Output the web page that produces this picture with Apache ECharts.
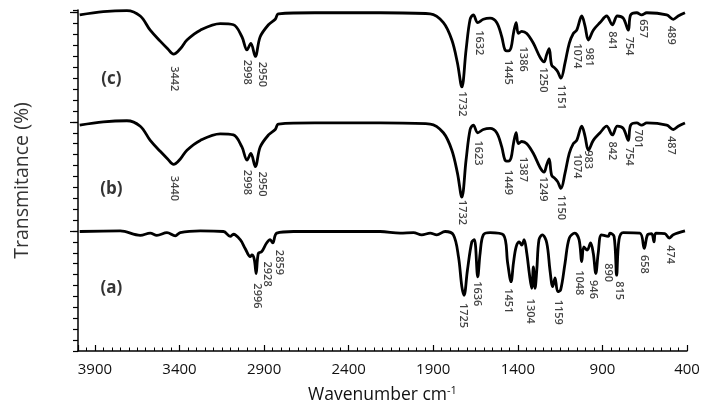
<!DOCTYPE html>
<html>
<head>
<meta charset="utf-8">
<script src="https://cdn.jsdelivr.net/npm/echarts@6/dist/echarts.min.js"></script>
<style>
  html, body { margin: 0; padding: 0; background: #fff; }
  #chart { width: 706px; height: 411px; }
</style>
</head>
<body>
<div id="chart"></div>
<script>
// spectra: [wavenumber, transmittance (offset units)]
const traceC = [
  [3990, 30.8], [3850, 31.1], [3711, 31.2], [3632, 30.7], [3573, 29.4], [3514, 28.4],
  [3470, 27.7], [3435, 27.2], [3395, 27.7], [3356, 28.5], [3277, 29.4], [3159, 30.0],
  [3081, 29.9], [3031, 28.8], [3001, 27.6], [2978, 28.2], [2952, 27.0], [2923, 28.8],
  [2874, 29.9], [2834, 30.4], [2815, 30.9], [2600, 31.0], [2214, 31.0], [1918, 30.9],
  [1840, 30.1], [1790, 28.5], [1757, 26.4], [1731, 24.2], [1706, 27.6], [1682, 30.4],
  [1663, 30.8], [1637, 30.1], [1604, 30.4], [1564, 30.5], [1525, 30.1], [1495, 28.8],
  [1476, 27.6], [1456, 27.5], [1440, 27.8], [1426, 29.1], [1410, 30.1], [1397, 29.1],
  [1377, 29.3], [1347, 29.1], [1308, 28.2], [1268, 26.9], [1245, 26.5], [1229, 27.2],
  [1215, 27.7], [1200, 26.2], [1180, 25.9], [1164, 25.6], [1145, 25.0], [1121, 26.4],
  [1096, 28.2], [1072, 29.1], [1052, 29.4], [1022, 30.7], [1003, 29.8], [983, 28.5],
  [954, 29.4], [914, 30.1], [875, 30.7], [841, 29.9], [812, 30.7], [777, 30.5],
  [747, 29.4], [733, 30.8], [697, 31.0], [668, 30.8], [638, 31.0], [520, 30.8],
  [481, 30.4], [452, 30.7], [412, 31.0]
];
const traceB = [
  [3990, 20.7], [3850, 21.0], [3711, 21.1], [3632, 20.6], [3573, 19.3], [3514, 18.3],
  [3470, 17.6], [3435, 17.1], [3395, 17.6], [3356, 18.4], [3277, 19.3], [3159, 19.9],
  [3081, 19.8], [3031, 18.7], [3001, 17.5], [2978, 18.1], [2952, 16.9], [2923, 18.7],
  [2874, 19.8], [2834, 20.3], [2815, 20.8], [2600, 20.9], [2214, 20.9], [1918, 20.8],
  [1840, 20.0], [1790, 18.4], [1757, 16.3], [1731, 14.1], [1706, 17.5], [1682, 20.3],
  [1663, 20.7], [1637, 20.0], [1604, 20.3], [1564, 20.4], [1525, 20.0], [1495, 18.7],
  [1476, 17.5], [1456, 17.4], [1440, 17.7], [1426, 19.0], [1410, 20.0], [1397, 19.0],
  [1377, 19.2], [1347, 19.0], [1308, 18.1], [1268, 16.8], [1245, 16.4], [1229, 17.1],
  [1215, 17.6], [1200, 16.1], [1180, 15.8], [1164, 15.5], [1145, 14.9], [1121, 16.3],
  [1096, 18.1], [1072, 19.0], [1052, 19.3], [1022, 20.6], [1003, 19.7], [983, 18.4],
  [954, 19.3], [914, 20.0], [875, 20.6], [841, 19.8], [812, 20.6], [777, 20.4],
  [747, 19.3], [733, 20.7], [697, 20.9], [668, 20.7], [638, 20.9], [520, 20.7],
  [481, 20.3], [452, 20.6], [412, 20.9]
];
const traceA = [
  [3990, 10.95], [3750, 11.0], [3632, 10.6], [3573, 10.8], [3534, 10.6], [3474, 10.85],
  [3425, 10.55], [3396, 10.85], [3277, 11.0], [3140, 10.95], [3100, 10.5], [3081, 10.7],
  [3041, 10.2], [3012, 9.4], [2982, 8.65], [2972, 8.8], [2958, 8.4], [2947, 7.1],
  [2934, 8.95], [2914, 9.1], [2885, 9.9], [2864, 10.2], [2849, 9.9], [2825, 10.8],
  [2726, 10.95], [2214, 10.95], [2096, 10.8], [2017, 10.85], [1968, 10.65], [1918, 10.8],
  [1879, 10.65], [1830, 10.95], [1781, 10.65], [1751, 8.65], [1731, 5.9], [1718, 5.1],
  [1698, 7.4], [1672, 10.0], [1657, 10.2], [1637, 6.8], [1623, 8.95], [1604, 10.65],
  [1564, 10.85], [1486, 10.65], [1460, 8.05], [1440, 6.35], [1426, 8.05], [1410, 9.55],
  [1391, 10.0], [1377, 9.7], [1363, 10.2], [1347, 8.95], [1332, 7.1], [1318, 5.75],
  [1308, 7.7], [1298, 5.75], [1288, 7.4], [1275, 10.2], [1255, 10.65], [1229, 9.9],
  [1210, 7.4], [1194, 5.9], [1180, 6.7], [1164, 5.45], [1147, 5.6], [1121, 8.05],
  [1096, 10.35], [1063, 10.8], [1038, 10.2], [1022, 8.2], [1010, 9.55], [990, 9.25],
  [970, 9.9], [954, 8.95], [939, 7.1], [925, 8.95], [905, 10.65], [865, 10.5],
  [856, 10.8], [831, 10.5], [816, 6.95], [802, 10.2], [777, 10.85], [679, 10.8],
  [653, 9.4], [633, 10.65], [609, 10.75], [595, 10.0], [584, 10.8], [531, 10.75],
  [505, 10.35], [481, 10.65], [412, 11.0]
];

// peak annotations: [text, wavenumber where drawn, level of the label top]
const peaksC = [
  ['3442', 3431, 26.1], ['2998', 3001, 26.7], ['2950', 2909, 26.5], ['1732', 1731, 23.8],
  ['1632', 1629, 29.4], ['1445', 1460, 26.7], ['1386', 1371, 27.9], ['1250', 1249, 26.0],
  ['1151', 1145, 24.4], ['1074', 1052, 28.2], ['981', 977, 27.8], ['841', 841, 29.3],
  ['754', 744, 28.8], ['657', 660, 30.4], ['489', 491, 29.8]
];
const peaksB = [
  ['3440', 3431, 16.05], ['2998', 3001, 16.6], ['2950', 2909, 16.45], ['1732', 1731, 13.85],
  ['1623', 1634, 19.3], ['1449', 1460, 16.6], ['1387', 1371, 17.8], ['1249', 1249, 16.0],
  ['1150', 1145, 14.3], ['1074', 1052, 18.1], ['983', 983, 18.4], ['842', 841, 19.2],
  ['754', 744, 18.7], ['701', 688, 20.3], ['487', 491, 19.7]
];
const peaksA = [
  ['2859', 2809, 9.27], ['2928', 2883, 8.2], ['2996', 2942, 6.2], ['1725', 1725, 4.4],
  ['1636', 1639, 6.4], ['1451', 1456, 5.75], ['1304', 1328, 4.8], ['1159', 1164, 4.7],
  ['1048', 1036, 7.4], ['946', 954, 6.5], ['890', 865, 8.05], ['815', 800, 6.4],
  ['658', 652, 8.8], ['474', 501, 9.7]
];
const sampleTags = [['(c)', 3803, 24.9], ['(b)', 3803, 14.8], ['(a)', 3803, 5.8]];

const xTitle = 'Wavenumber cm';
const yTitle = 'Transmitance (%)';

const chart = echarts.init(document.getElementById('chart'), null, { renderer: 'canvas' });

const lineSeries = (data) => ({
  type: 'line',
  data: data,
  showSymbol: false,
  smooth: 0.35,
  lineStyle: { color: '#000', width: 2.8 },
  silent: true,
  z: 3
});

const labelSeries = (list, style) => ({
  type: 'scatter',
  symbolSize: 0,
  silent: true,
  data: list.map((p) => [p[1], p[2], p[0]]),
  label: Object.assign({
    show: true,
    position: 'inside',
    formatter: (p) => p.value[2],
    color: '#111',
    fontFamily: 'Open Sans',
    fontSize: 11,
    fontWeight: 600,
    rotate: -90,
    align: 'left',
    verticalAlign: 'middle'
  }, style || {}),
  z: 4
});

chart.setOption({
  animation: false,
  backgroundColor: '#fff',
  grid: { left: 78, right: 19, top: 10, bottom: 60 },
  xAxis: {
    type: 'value',
    min: 400,
    max: 4000,
    interval: 500,
    inverse: true,
    name: xTitle + '{sup|-1}',
    nameLocation: 'middle',
    nameGap: 34,
    nameTextStyle: {
      color: '#111',
      fontFamily: 'Open Sans',
      fontSize: 17.5,
      rich: { sup: { fontSize: 11, verticalAlign: 'top', padding: [0, 0, 10, 0], color: '#111', fontFamily: 'Open Sans' } }
    },
    axisLine: { lineStyle: { color: '#000', width: 1.5 } },
    axisTick: { inside: true, length: 6, lineStyle: { color: '#000', width: 1.2 } },
    minorTick: { show: true, splitNumber: 10, length: 3.5, lineStyle: { color: '#000', width: 1 } },
    splitLine: { show: false },
    axisLabel: {
      color: '#111',
      fontFamily: 'Open Sans',
      fontSize: 15,
      margin: 11,
      showMaxLabel: false,
      formatter: (v) => (v === 4000 ? '' : String(v))
    }
  },
  yAxis: [
    {
      type: 'value',
      min: 0,
      max: 31.25,
      interval: 1,
      name: yTitle,
      nameLocation: 'middle',
      nameGap: 46,
      nameTextStyle: { color: '#333', fontFamily: 'Open Sans', fontSize: 19.5 },
      axisLine: { show: true, lineStyle: { color: '#000', width: 1.5 } },
      axisTick: { show: true, length: 5, lineStyle: { color: '#000', width: 1.2 } },
      axisLabel: { show: false },
      splitLine: { show: false }
    },
    {
      type: 'value',
      min: 0,
      max: 31.25,
      position: 'left',
      axisLine: { show: false },
      axisTick: { show: true, length: 8, customValues: [11, 21, 31], lineStyle: { color: '#000', width: 1.2 } },
      axisLabel: { show: false },
      splitLine: { show: false }
    }
  ],
  series: [
    lineSeries(traceC),
    lineSeries(traceB),
    lineSeries(traceA),
    labelSeries(peaksC),
    labelSeries(peaksB),
    labelSeries(peaksA),
    labelSeries(sampleTags, {
      rotate: 0,
      align: 'center',
      fontSize: 17,
      fontWeight: 'bold',
      color: '#000'
    })
  ]
});
</script>
</body>
</html>
